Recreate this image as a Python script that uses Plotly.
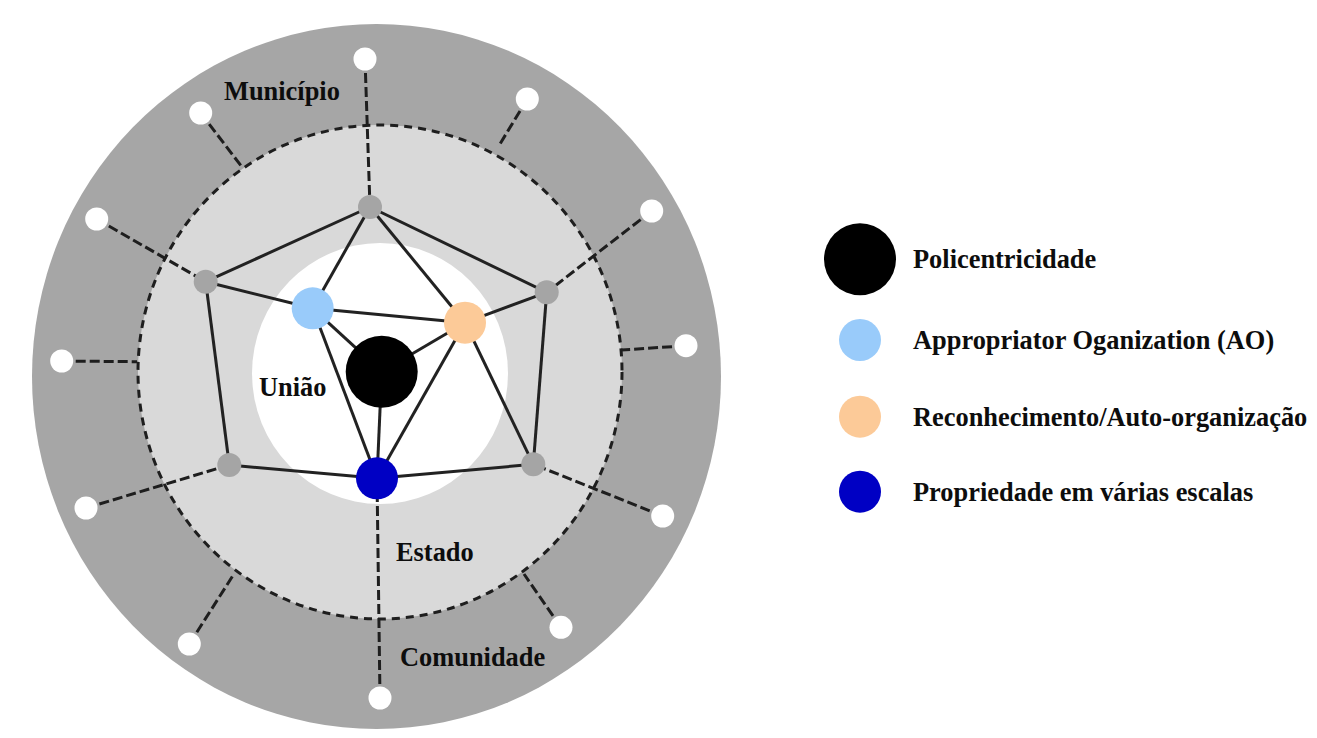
import plotly.graph_objects as go

# ---------------- data (pixel space of the original diagram) ----------------
# concentric zones: centre x, centre y, radius x, radius y, fill
zone_names = ["Comunidade", "Estado", "União"]
zone_cx = [376.5, 380.0, 380.0]
zone_cy = [376.5, 372.0, 373.5]
zone_rx = [344.5, 242.0, 128.0]
zone_ry = [352.5, 247.0, 130.5]
zone_fill = ["#a6a6a6", "#d9d9d9", "#ffffff"]

# core network nodes
node_names = ["top", "left", "right", "bl", "br", "ao", "rec", "poli", "prop"]
node_x = [370.0, 205.7, 546.7, 229.3, 533.3, 312.7, 465.0, 381.7, 377.0]
node_y = [207.0, 281.7, 292.3, 465.0, 464.3, 308.3, 322.7, 371.7, 478.3]

# solid links between nodes
edges = [("top", "left"), ("top", "right"), ("left", "bl"), ("right", "br"),
         ("bl", "prop"), ("prop", "br"), ("left", "ao"), ("ao", "rec"),
         ("rec", "right"), ("top", "ao"), ("top", "rec"), ("ao", "poli"),
         ("poli", "rec"), ("ao", "prop"), ("poli", "prop"), ("rec", "prop"),
         ("rec", "br")]

# outer (community) nodes and the inner end of their dashed spoke
outer_x = [365.0, 527.3, 200.7, 651.7, 96.7, 686.0, 61.7, 662.7, 86.0, 561.0, 189.3, 380.0]
outer_y = [59.0, 99.0, 113.0, 211.0, 219.0, 345.7, 361.0, 516.0, 508.0, 627.3, 644.0, 698.0]
spoke_end_x = [370.0, 498.3, 241.7, 546.7, 205.7, 621.7, 137.0, 533.3, 229.3, 524.0, 233.3, 377.0]
spoke_end_y = [207.0, 146.7, 166.7, 292.3, 281.7, 350.0, 361.7, 464.3, 465.0, 574.0, 575.0, 478.3]

# zone labels
label_text = ["Município", "União", "Estado", "Comunidade"]
label_x = [281.7, 292.0, 435.0, 472.0]
label_y = [90.7, 386.7, 551.7, 657.0]

# legend
legend_text = ["Policentricidade", "Appropriator Oganization (AO)",
               "Reconhecimento/Auto-organização", "Propriedade em várias escalas"]
legend_color = ["#000000", "#99cbfa", "#fcca98", "#0000c4"]
legend_size = [72, 42, 42, 42]
legend_x = 860.0
legend_y = [259.3, 340.0, 416.7, 491.7]
legend_text_x = 911.0

special_nodes = ["poli", "ao", "rec", "prop"]
gray_nodes = ["top", "left", "right", "bl", "br"]

W, H = 1317, 738
PAGE_MARGIN = 8  # default body margin of the html page
FONT = "Liberation Serif, Times New Roman, serif"
FONT_SIZE = 26.4

fig = go.Figure()

shapes = []
for cx, cy, rx, ry, fc in zip(zone_cx, zone_cy, zone_rx, zone_ry, zone_fill):
    shapes.append(dict(type="circle", xref="x", yref="y", layer="below",
                       x0=cx - rx, x1=cx + rx, y0=cy - ry, y1=cy + ry,
                       fillcolor=fc, line=dict(width=0)))
shapes.append(dict(type="circle", xref="x", yref="y", layer="below",
                   x0=zone_cx[1] - zone_rx[1], x1=zone_cx[1] + zone_rx[1],
                   y0=zone_cy[1] - zone_ry[1], y1=zone_cy[1] + zone_ry[1],
                   fillcolor="rgba(0,0,0,0)",
                   line=dict(color="#1e1e1e", width=3, dash="8px,6px")))

# dashed spokes
sx, sy = [], []
for ox, oy, ex, ey in zip(outer_x, outer_y, spoke_end_x, spoke_end_y):
    sx += [ox, ex, None]
    sy += [oy, ey, None]
fig.add_trace(go.Scatter(x=sx, y=sy, mode="lines", hoverinfo="skip",
                         line=dict(color="#1e1e1e", width=3, dash="10px,4px")))

# solid edges
idx = {n: i for i, n in enumerate(node_names)}
exs, eys = [], []
for a, b in edges:
    exs += [node_x[idx[a]], node_x[idx[b]], None]
    eys += [node_y[idx[a]], node_y[idx[b]], None]
fig.add_trace(go.Scatter(x=exs, y=eys, mode="lines", hoverinfo="skip",
                         line=dict(color="#222222", width=3)))

# outer white nodes
fig.add_trace(go.Scatter(x=outer_x, y=outer_y, mode="markers", hoverinfo="skip",
                         marker=dict(size=23, color="#ffffff", opacity=1, line=dict(width=0))))

# gray nodes
fig.add_trace(go.Scatter(x=[node_x[idx[n]] for n in gray_nodes],
                         y=[node_y[idx[n]] for n in gray_nodes],
                         mode="markers", hoverinfo="skip",
                         marker=dict(size=24, color="#a5a5a5", opacity=1, line=dict(width=0))))

# coloured nodes
fig.add_trace(go.Scatter(x=[node_x[idx[n]] for n in special_nodes],
                         y=[node_y[idx[n]] for n in special_nodes],
                         mode="markers", hoverinfo="skip",
                         marker=dict(size=legend_size, color=legend_color, opacity=1,
                                     line=dict(width=0))))

# legend markers
fig.add_trace(go.Scatter(x=[legend_x] * len(legend_y), y=legend_y, mode="markers",
                         hoverinfo="skip",
                         marker=dict(size=legend_size, color=legend_color, opacity=1,
                                     line=dict(width=0))))

annotations = []
for t, x, y in zip(label_text, label_x, label_y):
    annotations.append(dict(x=x, y=y, xref="x", yref="y", text="<b>%s</b>" % t,
                            showarrow=False, xanchor="center", yanchor="middle",
                            font=dict(family=FONT, size=FONT_SIZE, color="#0d0d0d")))
for t, y in zip(legend_text, legend_y):
    annotations.append(dict(x=legend_text_x, y=y, xref="x", yref="y", text="<b>%s</b>" % t,
                            showarrow=False, xanchor="left", yanchor="middle",
                            font=dict(family=FONT, size=FONT_SIZE, color="#0d0d0d")))

# the page keeps an 8 px body margin, so the figure fills the window minus it
fig.update_layout(
    width=W - 2 * PAGE_MARGIN, height=H - 2 * PAGE_MARGIN,
    margin=dict(l=0, r=0, t=0, b=0),
    paper_bgcolor="#ffffff", plot_bgcolor="#ffffff",
    showlegend=False,
    shapes=shapes, annotations=annotations,
    xaxis=dict(range=[PAGE_MARGIN, W - PAGE_MARGIN], visible=False, fixedrange=True),
    yaxis=dict(range=[H - PAGE_MARGIN, PAGE_MARGIN], visible=False, fixedrange=True),
)

fig.write_html("out.html", config={"displayModeBar": False})
